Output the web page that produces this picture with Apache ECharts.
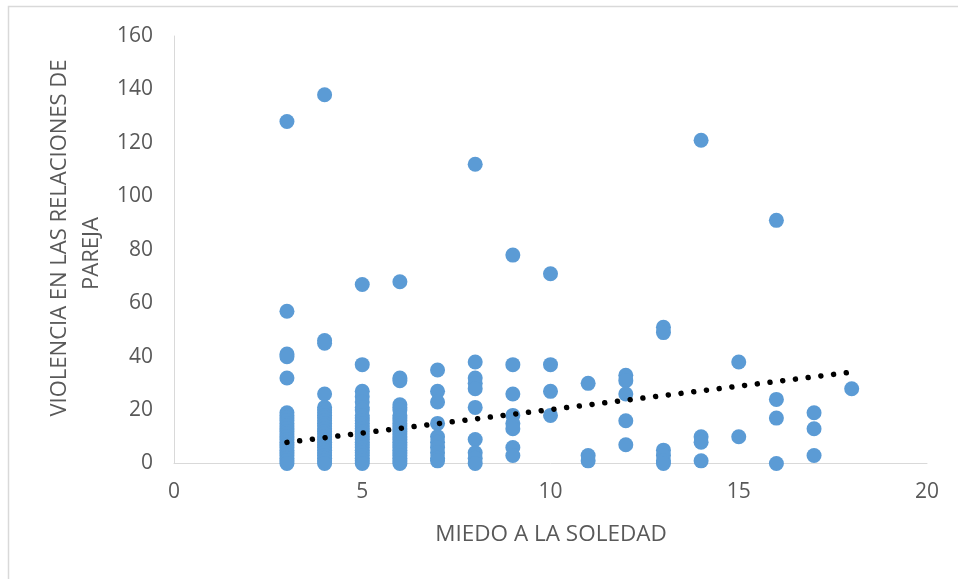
<!DOCTYPE html>
<html>
<head>
<meta charset="utf-8">
<script src="https://cdn.jsdelivr.net/npm/echarts@6/dist/echarts.min.js"></script>
<style>
  html, body { margin: 0; padding: 0; background: #ffffff; }
  #chart { width: 958px; height: 579px; }
</style>
</head>
<body>
<div id="chart"></div>
<script>
// ---- Data ----
const miedoX3 = [128, 57, 41, 40, 32, 19, 18, 17, 16, 15, 14, 13, 12, 11, 10, 9, 8, 7, 6, 5, 4, 3, 2, 1, 0];
const miedoX4 = [138, 46, 45, 26, 21, 20, 19, 18, 17, 16, 15, 14, 13, 12, 11, 10, 9, 8, 7, 6, 5, 4, 3, 2, 1, 0];
const miedoX5 = [67, 37, 27, 25, 23, 21, 20, 18, 17, 16, 15, 14, 13, 12, 11, 10, 9, 8, 7, 6, 5, 4, 3, 2, 1, 0];
const miedoX6 = [68, 32, 31, 22, 21, 20, 18, 17, 16, 15, 14, 13, 12, 11, 10, 9, 8, 7, 6, 5, 4, 3, 2, 1, 0];
const miedoX7 = [35, 27, 23, 15, 10, 8, 6, 4, 2, 1];
const miedoX8 = [112, 38, 32, 30, 28, 21, 9, 4, 2, 0];
const miedoX9 = [78, 37, 26, 18, 15, 13, 6, 3];
const miedoX10 = [71, 37, 27, 18];
const miedoX11 = [30, 3, 1];
const miedoX12 = [33, 31, 26, 16, 7];
const miedoX13 = [51, 49, 5, 3, 1, 0];
const miedoX14 = [121, 10, 8, 1];
const miedoX15 = [38, 10];
const miedoX16 = [91, 24, 17, 0];
const miedoX17 = [19, 13, 3];
const miedoX18 = [28];

const columns = [
  [3, miedoX3], [4, miedoX4], [5, miedoX5], [6, miedoX6], [7, miedoX7],
  [8, miedoX8], [9, miedoX9], [10, miedoX10], [11, miedoX11], [12, miedoX12],
  [13, miedoX13], [14, miedoX14], [15, miedoX15], [16, miedoX16], [17, miedoX17], [18, miedoX18]
];

// linear trend line endpoints (as drawn in the reference)
const trendX = [3, 18];
const trendY = [7.9, 34.2];

const xTicks = [0, 5, 10, 15, 20];
const yTicks = [0, 20, 40, 60, 80, 100, 120, 140, 160];

const xTitle = 'MIEDO A LA SOLEDAD';
const yTitleLine1 = 'VIOLENCIA EN LAS RELACIONES DE';
const yTitleLine2 = 'PAREJA';

// ---- Build ----
const points = [];
columns.forEach(([x, ys]) => ys.forEach(y => points.push([x, y])));
const trendData = trendX.map((x, i) => [x, trendY[i]]);

const FONT = 'Open Sans';
const TXT = '#595959';

const chart = echarts.init(document.getElementById('chart'), null, { renderer: 'canvas' });
chart.setOption({
  animation: false,
  backgroundColor: '#ffffff',
  grid: { left: 174, right: 31, top: 36, bottom: 115.5, containLabel: false },
  xAxis: {
    type: 'value',
    min: xTicks[0], max: xTicks[xTicks.length - 1], interval: 5,
    axisLine: { show: true, onZero: true, lineStyle: { color: '#d9d9d9', width: 1 } },
    axisTick: { show: false },
    splitLine: { show: false },
    axisLabel: { color: TXT, fontSize: 21, fontFamily: FONT, margin: 18 }
  },
  yAxis: {
    type: 'value',
    min: yTicks[0], max: yTicks[yTicks.length - 1], interval: 20,
    axisLine: { show: true, lineStyle: { color: '#d9d9d9', width: 1 } },
    axisTick: { show: false },
    splitLine: { show: false },
    axisLabel: { color: TXT, fontSize: 21, fontFamily: FONT, margin: 21 }
  },
  graphic: [
    { type: 'rect', shape: { x: 8.5, y: 6.5, width: 1200, height: 1200 },
      style: { fill: 'none', stroke: '#d9d9d9', lineWidth: 1.5 }, silent: true, z: -10 },
    { type: 'text', x: 551, y: 535, style: { text: xTitle, fill: TXT, font: '22.5px "Open Sans"', align: 'center', verticalAlign: 'middle' } },
    { type: 'text', x: 60, y: 238, rotation: Math.PI / 2, style: { text: yTitleLine1, fill: TXT, font: '22px "Open Sans"', align: 'center', verticalAlign: 'middle' } },
    { type: 'text', x: 91.5, y: 253.5, rotation: Math.PI / 2, style: { text: yTitleLine2, fill: TXT, font: '22px "Open Sans"', align: 'center', verticalAlign: 'middle' } }
  ],
  series: [
    {
      type: 'scatter',
      data: points,
      symbol: 'circle',
      symbolSize: 15,
      itemStyle: { color: '#5B9BD5', opacity: 1 },
      z: 2
    },
    {
      type: 'line',
      data: trendData,
      showSymbol: false,
      symbol: 'none',
      lineStyle: { color: '#000000', width: 5.5, type: [0.01, 12.8], cap: 'round' },
      z: 3
    }
  ]
});
</script>
</body>
</html>
